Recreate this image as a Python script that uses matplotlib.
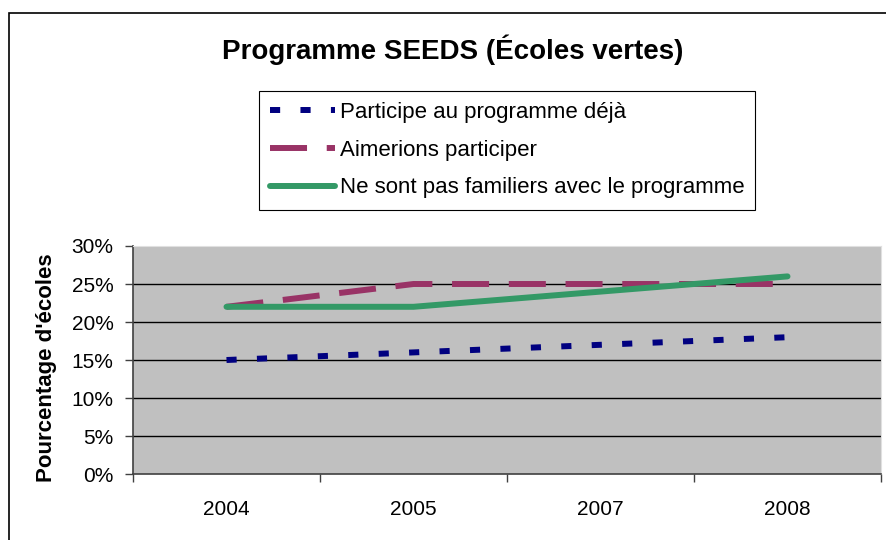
import matplotlib.pyplot as plt
from matplotlib.patches import Rectangle
from matplotlib.ticker import PercentFormatter

plt.rcParams['font.family'] = ['Liberation Sans', 'DejaVu Sans']

years = ['2004', '2005', '2007', '2008']
participe = [15, 16, 17, 18]
aimerions = [22, 25, 25, 25]
pas_familiers = [22, 22, 24, 26]

labels = ['Participe au programme déjà', 'Aimerions participer',
          'Ne sont pas familiers avec le programme']

fig = plt.figure(figsize=(8.86, 5.4), dpi=100)
ax = fig.add_axes([133 / 886, 1 - 474 / 540, 748 / 886, 228 / 540])
ax.set_facecolor('#C0C0C0')

x = range(len(years))
ax.plot(x, participe, color='#000080', lw=4.3, dashes=(1.7, 3.4),
        solid_capstyle='butt', dash_capstyle='butt', label=labels[0])
ax.plot(x, aimerions, color='#993366', lw=4.3, dashes=(6.2, 3.3),
        dash_capstyle='butt', label=labels[1])
ax.plot(x, pas_familiers, color='#339966', lw=4.3,
        solid_capstyle='round', label=labels[2])

ax.set_xlim(-0.5, len(years) - 0.5)
ax.set_ylim(0, 30)
ax.set_yticks(range(0, 31, 5))
ax.yaxis.set_major_formatter(PercentFormatter(decimals=0))
ax.set_xticks(list(x))
ax.set_xticklabels(years)
ax.set_xticks([i - 0.5 for i in range(len(years) + 1)], minor=True)
ax.tick_params(axis='x', which='major', length=0, pad=19, labelsize=15)
ax.tick_params(axis='x', which='minor', length=6, width=1, color='#404040')
ax.tick_params(axis='y', length=6, width=1, color='#404040', pad=8,
               labelsize=15)

ax.yaxis.grid(True, color='black', lw=1)
ax.set_axisbelow(True)
ax.get_ygridlines()[-1].set_visible(False)
ax.get_ygridlines()[0].set_visible(False)
for side in ['top', 'right']:
    ax.spines[side].set_color('#E0E0E0')
for side in ['left', 'bottom']:
    ax.spines[side].set_color('#404040')
    ax.spines[side].set_linewidth(1.2)

fig.text(453 / 886, 1 - 50 / 540, 'Programme SEEDS (Écoles vertes)',
         ha='center', va='center', fontsize=20, fontweight='bold')
fig.text(47 / 886, 1 - 368 / 540, "Pourcentage d'écoles", rotation=90,
         ha='center', va='center', fontsize=16, fontweight='bold')

leg = fig.legend(loc='upper left', bbox_to_anchor=(259 / 886, 1 - 91 / 540),
                 fontsize=16, handlelength=2.9, handletextpad=0.23,
                 labelspacing=0.75, borderpad=0.5, fancybox=False,
                 framealpha=1, edgecolor='black', borderaxespad=0)
leg.get_frame().set_linewidth(0.8)

fig.patches.append(Rectangle((9 / 886, -0.1), 1.1, 1 - 12.5 / 540 + 0.1,
                             transform=fig.transFigure, fill=False,
                             edgecolor='black', lw=1.2, zorder=-1))

fig.savefig('out.png', dpi=100)
